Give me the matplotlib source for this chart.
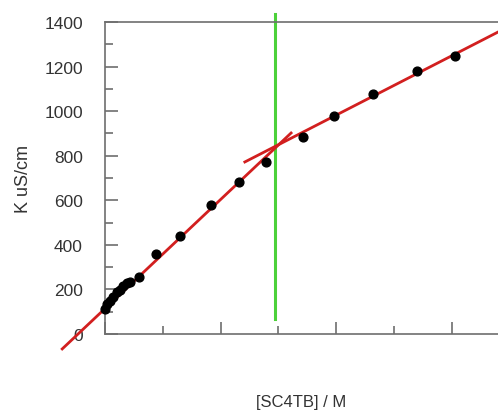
from matplotlib import pyplot as plt
from matplotlib.ticker import MultipleLocator, NullFormatter

# measured points
conc = [0.0, 0.02, 0.04, 0.07, 0.10, 0.13, 0.16, 0.19, 0.22, 0.29,
        0.44, 0.65, 0.92, 1.16, 1.39, 1.71, 1.98, 2.32, 2.70, 3.03]
kappa = [112, 135, 148, 166, 188, 197, 215, 229, 233, 256,
         359, 440, 579, 682, 772, 884, 978, 1077, 1180, 1247]

# the two fitted lines and the break point
fit1_x = [-0.37, 1.61]
fit1_y = [-67, 902]
fit2_x = [1.21, 3.40]
fit2_y = [772, 1355]
break_x = 1.47
break_y = [67, 1436]

plt.rcParams['font.family'] = ['Liberation Sans', 'DejaVu Sans']

fig = plt.figure(figsize=(4.98, 4.14), dpi=100)
ax = fig.add_axes([0.2108, 0.1908, 0.7892, 0.7536])

ax.plot(fit1_x, fit1_y, color='#d21f1f', lw=2, clip_on=False, zorder=3)
ax.plot(fit2_x, fit2_y, color='#d21f1f', lw=2, clip_on=False, zorder=3)
ax.plot([break_x, break_x], break_y, color='#4cd13a', lw=2.2, clip_on=False, zorder=2)
ax.scatter(conc, kappa, s=40, color='black', zorder=4, clip_on=False)

ax.set_xlim(0, 3.4)
ax.set_ylim(0, 1400)

for side in ['left', 'bottom', 'top']:
    ax.spines[side].set_color('#6e6e6e')
    ax.spines[side].set_linewidth(1.2)
ax.spines['right'].set_visible(False)

ax.xaxis.set_major_locator(MultipleLocator(1))
ax.xaxis.set_minor_locator(MultipleLocator(0.5))
ax.xaxis.set_major_formatter(NullFormatter())
ax.yaxis.set_major_locator(MultipleLocator(200))
ax.yaxis.set_minor_locator(MultipleLocator(100))

ax.tick_params(which='both', direction='in', color='#6e6e6e', width=1.2,
               top=False, right=False)
ax.tick_params(which='major', length=9)
ax.tick_params(which='minor', length=5.5)
ax.tick_params(axis='y', labelsize=12.5, labelcolor='#333333', pad=16)

ax.set_ylabel('K uS/cm', fontsize=13, color='#333333', labelpad=9)
ax.set_xlabel('[SC4TB] / M', fontsize=12, color='#333333', labelpad=40)

fig.savefig('out.png', dpi=100)
